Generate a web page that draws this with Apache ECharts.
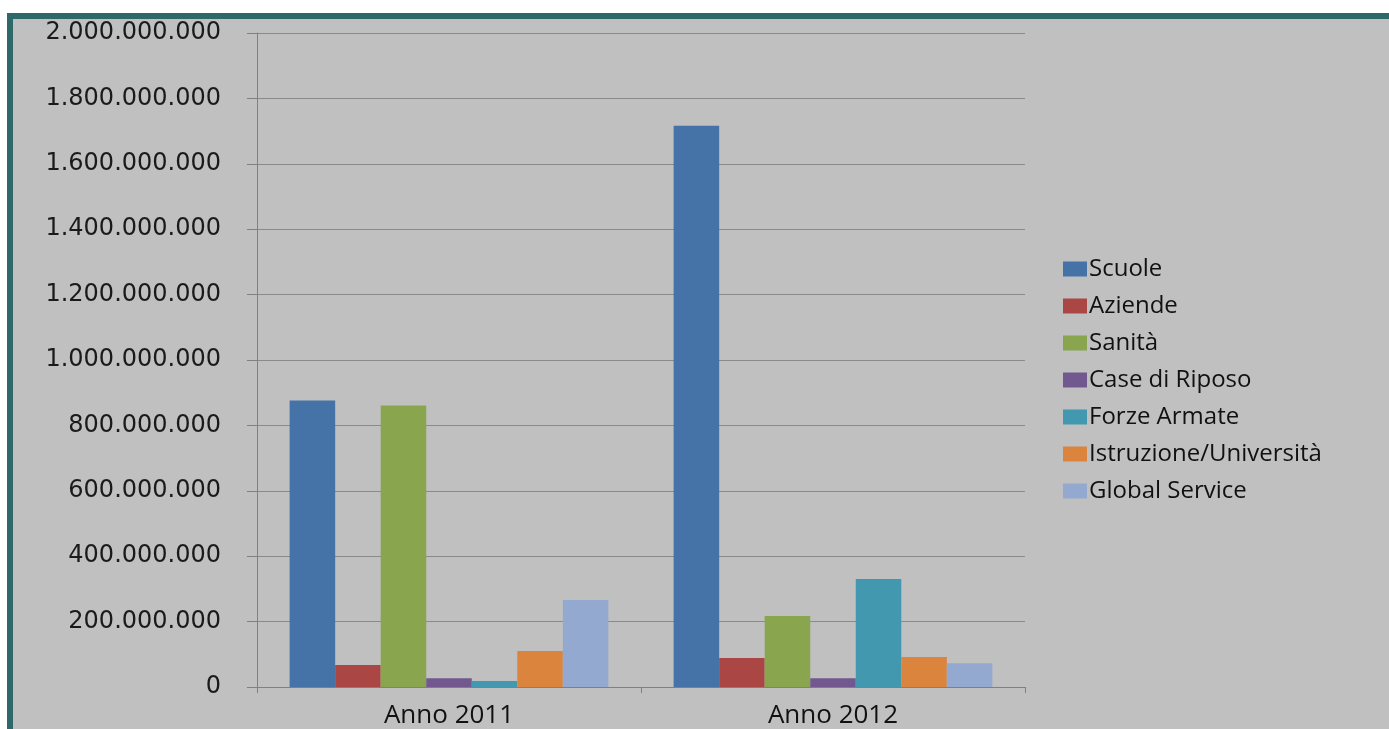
<!DOCTYPE html>
<html><head><meta charset="utf-8">
<script src="https://cdn.jsdelivr.net/npm/echarts@6/dist/echarts.min.js"></script>
<style>
html,body{margin:0;padding:0;background:#fff;width:1389px;height:729px;overflow:hidden;}
#frame{position:absolute;left:7px;top:13px;width:1400px;height:740px;background:#c0c0c0;border-top:6px solid #2f6868;border-left:6px solid #2f6868;}
#c{position:absolute;left:0;top:0;width:1389px;height:729px;}
</style></head><body>
<div id="frame"></div>
<div id="c"></div>
<script>
const categories = ['Anno 2011', 'Anno 2012'];
const seriesNames = ['Scuole', 'Aziende', 'Sanità', 'Case di Riposo', 'Forze Armate', 'Istruzione/Università', 'Global Service'];
const scuole = [876000000, 1716000000];
const aziende = [67000000, 89000000];
const sanita = [861000000, 217000000];
const caseRiposo = [27000000, 27000000];
const forzeArmate = [18000000, 330000000];
const istruzione = [110000000, 92000000];
const globalService = [266000000, 73000000];
const seriesValues = [scuole, aziende, sanita, caseRiposo, forzeArmate, istruzione, globalService];
const colors = ['#4572a7', '#aa4643', '#89a54e', '#71588f', '#4198af', '#db843d', '#93a9cf'];

function fmt(v){ return String(v).replace(/\B(?=(\d{3})+(?!\d))/g, '.'); }

const chart = echarts.init(document.getElementById('c'));
chart.setOption({
  backgroundColor: 'transparent',
  animation: false,
  color: colors,
  grid: {left: 257, right: 364, top: 33, bottom: 41, containLabel: false},
  legend: {
    orient: 'vertical', left: 1058, top: 252,
    itemWidth: 24, itemHeight: 15, itemGap: 13,
    icon: 'rect',
    textStyle: {fontFamily: 'Open Sans', fontSize: 24, lineHeight: 24, color: '#111', padding: [0,0,0,-3]},
    data: seriesNames
  },
  xAxis: {
    type: 'category', data: categories,
    axisLine: {show: true, lineStyle: {color: '#808080', width: 1}},
    axisTick: {show: true, length: 6, lineStyle: {color: '#808080'}},
    axisLabel: {fontFamily: 'Open Sans', fontSize: 26, color: '#111', margin: 16}
  },
  yAxis: {
    type: 'value', min: 0, max: 2000000000, interval: 200000000,
    axisLine: {show: true, lineStyle: {color: '#808080', width: 1}},
    axisTick: {show: true, length: 10, lineStyle: {color: '#808080'}},
    splitLine: {show: true, lineStyle: {color: '#8a8a8a', width: 1}},
    axisLabel: {fontFamily: 'DejaVu Sans', fontSize: 24, color: '#1a1a1a', margin: 36, formatter: fmt}
  },
  series: seriesNames.map((n, i) => ({
    name: n, type: 'bar', data: seriesValues[i],
    barGap: '0%', barCategoryGap: '17%'
  }))
});
</script>
</body></html>
